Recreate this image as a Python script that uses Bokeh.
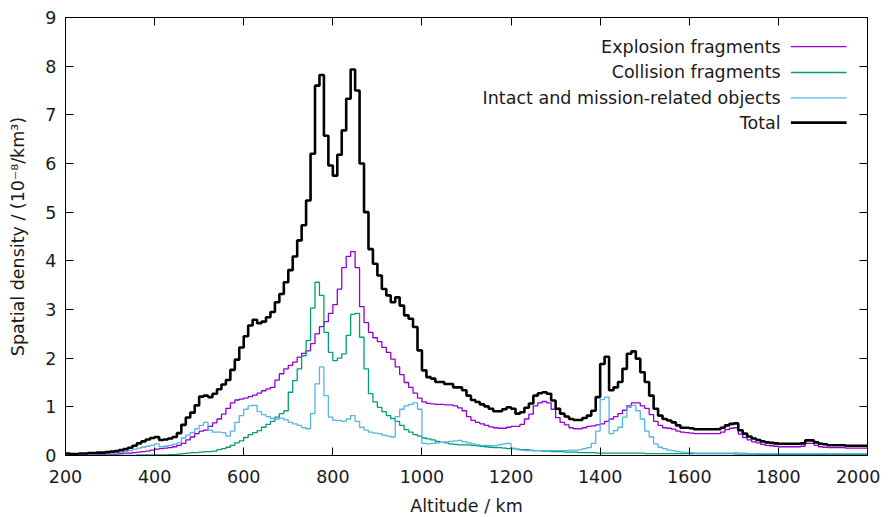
import numpy as np
from bokeh.plotting import figure
from bokeh.models import Range1d, FixedTicker, LinearAxis, Label
from bokeh.embed import file_html
from bokeh.resources import INLINE

# ---------------- data (10 km altitude bins starting at 200 km) ----------------
bin_start = 200
bin_width = 10

explosion = [
    0.01, 0.01, 0.01, 0.01, 0.01, 0.02, 0.02, 0.02, 0.02, 0.03,
    0.03, 0.03, 0.04, 0.05, 0.05, 0.06, 0.07, 0.08, 0.09, 0.11,
    0.13, 0.14, 0.15, 0.16, 0.18, 0.21, 0.25, 0.32, 0.38, 0.45,
    0.50, 0.52, 0.60, 0.67, 0.75, 0.85, 0.97, 1.08, 1.14, 1.16,
    1.18, 1.21, 1.24, 1.28, 1.33, 1.37, 1.40, 1.55, 1.68, 1.78,
    1.85, 1.92, 2.02, 2.10, 2.15, 2.30, 2.50, 2.65, 2.75, 2.92,
    3.10, 3.42, 3.86, 4.09, 4.19, 3.86, 3.06, 2.73, 2.53, 2.42,
    2.34, 2.22, 2.12, 1.98, 1.82, 1.66, 1.50, 1.40, 1.28, 1.18,
    1.10, 1.07, 1.06, 1.05, 1.05, 1.04, 1.04, 1.02, 0.98, 0.92,
    0.80, 0.72, 0.68, 0.65, 0.62, 0.59, 0.57, 0.56, 0.56, 0.58,
    0.60, 0.60, 0.64, 0.75, 0.85, 1.02, 1.08, 1.11, 1.08, 0.95,
    0.78, 0.68, 0.63, 0.57, 0.55, 0.55, 0.57, 0.60, 0.61, 0.63,
    0.65, 0.70, 0.75, 0.80, 0.86, 0.93, 1.02, 1.08, 1.08, 1.02,
    0.97, 0.84, 0.70, 0.62, 0.57, 0.56, 0.54, 0.50, 0.48, 0.47,
    0.46, 0.45, 0.45, 0.45, 0.45, 0.45, 0.45, 0.48, 0.53, 0.56,
    0.57, 0.44, 0.37, 0.32, 0.28, 0.26, 0.23, 0.21, 0.20, 0.19,
    0.18, 0.18, 0.18, 0.18, 0.18, 0.19, 0.25, 0.25, 0.21, 0.18,
    0.17, 0.16, 0.16, 0.16, 0.16, 0.15, 0.15, 0.15, 0.15, 0.15,
]

collision = [
    0.00, 0.00, 0.00, 0.00, 0.00, 0.00, 0.00, 0.00, 0.00, 0.00,
    0.00, 0.00, 0.00, 0.00, 0.00, 0.00, 0.01, 0.01, 0.01, 0.01,
    0.01, 0.01, 0.01, 0.02, 0.02, 0.03, 0.04, 0.05, 0.06, 0.06,
    0.07, 0.08, 0.08, 0.09, 0.12, 0.14, 0.17, 0.21, 0.26, 0.30,
    0.37, 0.43, 0.47, 0.51, 0.58, 0.64, 0.70, 0.79, 0.86, 0.92,
    1.30, 1.54, 1.78, 2.05, 2.36, 3.03, 3.56, 3.29, 2.53, 2.12,
    1.95, 2.00, 2.09, 2.47, 2.90, 2.92, 2.43, 1.78, 1.27, 1.10,
    0.99, 0.90, 0.82, 0.76, 0.70, 0.62, 0.53, 0.48, 0.43, 0.40,
    0.36, 0.34, 0.32, 0.29, 0.27, 0.26, 0.24, 0.23, 0.22, 0.22,
    0.22, 0.21, 0.20, 0.19, 0.18, 0.17, 0.16, 0.16, 0.15, 0.14,
    0.14, 0.13, 0.12, 0.12, 0.11, 0.10, 0.10, 0.09, 0.09, 0.08,
    0.08, 0.08, 0.07, 0.07, 0.07, 0.06, 0.06, 0.06, 0.06, 0.05,
    0.05, 0.05, 0.05, 0.05, 0.05, 0.05, 0.05, 0.05, 0.05, 0.05,
    0.04, 0.04, 0.04, 0.04, 0.04, 0.04, 0.04, 0.04, 0.04, 0.04,
    0.04, 0.04, 0.04, 0.04, 0.04, 0.04, 0.04, 0.04, 0.04, 0.04,
    0.03, 0.03, 0.03, 0.03, 0.03, 0.02, 0.02, 0.02, 0.02, 0.02,
    0.02, 0.02, 0.02, 0.02, 0.02, 0.02, 0.02, 0.02, 0.02, 0.02,
    0.02, 0.02, 0.02, 0.02, 0.02, 0.02, 0.02, 0.02, 0.02, 0.02,
]

intact = [
    0.03, 0.02, 0.02, 0.03, 0.03, 0.03, 0.03, 0.04, 0.04, 0.04,
    0.05, 0.06, 0.07, 0.08, 0.10, 0.13, 0.15, 0.17, 0.19, 0.21,
    0.24, 0.18, 0.19, 0.21, 0.23, 0.26, 0.36, 0.42, 0.47, 0.55,
    0.62, 0.68, 0.52, 0.48, 0.48, 0.47, 0.40, 0.50, 0.68, 0.82,
    0.95, 1.02, 1.03, 0.90, 0.84, 0.80, 0.76, 0.75, 0.77, 0.73,
    0.68, 0.65, 0.62, 0.57, 0.55, 0.86, 1.47, 1.82, 1.23, 0.79,
    0.72, 0.72, 0.70, 0.75, 0.82, 0.70, 0.58, 0.52, 0.48, 0.46,
    0.45, 0.42, 0.40, 0.38, 0.80, 0.95, 1.02, 1.05, 1.08, 0.95,
    0.25, 0.24, 0.25, 0.26, 0.27, 0.28, 0.29, 0.30, 0.31, 0.28,
    0.26, 0.24, 0.22, 0.21, 0.21, 0.20, 0.20, 0.22, 0.24, 0.25,
    0.15, 0.12, 0.11, 0.10, 0.10, 0.10, 0.10, 0.10, 0.10, 0.10,
    0.10, 0.10, 0.10, 0.11, 0.11, 0.12, 0.14, 0.16, 0.25, 0.50,
    1.15, 1.20, 0.45, 0.51, 0.58, 0.79, 0.99, 1.03, 0.92, 0.75,
    0.50, 0.38, 0.24, 0.17, 0.14, 0.11, 0.10, 0.08, 0.07, 0.06,
    0.06, 0.05, 0.05, 0.05, 0.05, 0.05, 0.05, 0.05, 0.05, 0.05,
    0.06, 0.05, 0.05, 0.04, 0.04, 0.04, 0.04, 0.04, 0.04, 0.04,
    0.04, 0.04, 0.04, 0.04, 0.04, 0.04, 0.04, 0.04, 0.04, 0.04,
    0.04, 0.04, 0.04, 0.04, 0.04, 0.04, 0.04, 0.04, 0.04, 0.04,
]

total = [
    0.04, 0.03, 0.03, 0.04, 0.04, 0.05, 0.05, 0.06, 0.06, 0.07,
    0.08, 0.09, 0.11, 0.13, 0.16, 0.20, 0.25, 0.29, 0.33, 0.36,
    0.38, 0.32, 0.33, 0.35, 0.38, 0.46, 0.63, 0.78, 0.88, 1.03,
    1.21, 1.23, 1.20, 1.27, 1.36, 1.46, 1.55, 1.76, 1.97, 2.22,
    2.45, 2.67, 2.79, 2.72, 2.75, 2.84, 2.95, 3.15, 3.32, 3.56,
    3.81, 4.09, 4.42, 4.73, 5.24, 6.20, 7.60, 7.82, 6.57, 5.96,
    5.75, 6.18, 6.68, 7.33, 7.93, 7.50, 6.00, 5.00, 4.24, 3.94,
    3.70, 3.42, 3.29, 3.15, 3.25, 3.08, 2.88, 2.81, 2.64, 2.16,
    1.75, 1.61, 1.58, 1.51, 1.51, 1.47, 1.47, 1.40, 1.40, 1.34,
    1.23, 1.14, 1.10, 1.05, 1.01, 0.96, 0.91, 0.91, 0.95, 0.99,
    0.96, 0.86, 0.89, 0.98, 1.07, 1.23, 1.28, 1.30, 1.27, 1.13,
    0.96, 0.86, 0.80, 0.75, 0.73, 0.73, 0.77, 0.82, 0.92, 1.20,
    1.88, 2.03, 1.34, 1.40, 1.51, 1.78, 2.09, 2.14, 1.99, 1.71,
    1.51, 1.23, 0.96, 0.82, 0.75, 0.72, 0.68, 0.62, 0.57, 0.57,
    0.56, 0.54, 0.54, 0.54, 0.54, 0.54, 0.54, 0.57, 0.62, 0.65,
    0.66, 0.52, 0.45, 0.39, 0.35, 0.32, 0.29, 0.27, 0.26, 0.25,
    0.24, 0.24, 0.24, 0.24, 0.24, 0.25, 0.31, 0.31, 0.27, 0.24,
    0.23, 0.21, 0.21, 0.21, 0.21, 0.20, 0.20, 0.20, 0.20, 0.20,
]

series_names = ["Explosion fragments", "Collision fragments",
                "Intact and mission-related objects", "Total"]
series_values = [explosion, collision, intact, total]
series_colors = ["#9400d3", "#009e73", "#56b4e9", "#000000"]
series_widths = [1.3, 1.3, 1.3, 2.6]

x_ticks = [200, 400, 600, 800, 1000, 1200, 1400, 1600, 1800, 2000]
y_ticks = [0, 1, 2, 3, 4, 5, 6, 7, 8, 9]

# ---------------- styling constants ----------------
FONT = "DejaVu Sans"
FS = "17.5px"
TXT = "#1a1a1a"

p = figure(frame_width=802, frame_height=438,
           min_border_left=65, min_border_right=13,
           min_border_top=17, min_border_bottom=54,
           x_range=Range1d(200, 2000), y_range=Range1d(0, 9),
           output_backend="svg", toolbar_location=None,
           background_fill_color="white", border_fill_color="white")

p.xgrid.visible = False
p.ygrid.visible = False
p.outline_line_color = "black"
p.outline_line_width = 1

def style_axis(ax, ticks, show_labels=True):
    ax.ticker = FixedTicker(ticks=ticks)
    ax.major_tick_in = 8
    ax.major_tick_out = 0
    ax.minor_tick_in = 0
    ax.minor_tick_out = 0
    ax.axis_line_color = "black"
    ax.major_tick_line_color = "black"
    ax.major_label_text_font = FONT
    ax.major_label_text_color = TXT
    if show_labels:
        ax.major_label_text_font_size = FS
    else:
        ax.major_label_text_font_size = "0px"
        ax.major_label_text_alpha = 0
        ax.major_label_standoff = 0

style_axis(p.xaxis[0], x_ticks)
style_axis(p.yaxis[0], y_ticks)
p.xaxis[0].major_label_standoff = 14
p.yaxis[0].major_label_standoff = 9
p.xaxis[0].axis_label = "Altitude / km"
p.yaxis[0].axis_label = "Spatial density / (10\u207b\u2078/km\u00b3)"
for ax in (p.xaxis[0], p.yaxis[0]):
    ax.axis_label_text_font = FONT
    ax.axis_label_text_font_size = FS
    ax.axis_label_text_font_style = "normal"
    ax.axis_label_text_color = TXT
p.xaxis[0].axis_label_standoff = 10
p.yaxis[0].axis_label_standoff = 14

top_ax = LinearAxis()
style_axis(top_ax, x_ticks, show_labels=False)
p.add_layout(top_ax, "above")
right_ax = LinearAxis()
style_axis(right_ax, y_ticks, show_labels=False)
p.add_layout(right_ax, "right")

# ---------------- histogram steps ----------------
n_bins = len(total)
edges = bin_start + bin_width * np.arange(n_bins + 1)
for vals, col, w in zip(series_values, series_colors, series_widths):
    yy = list(vals) + [vals[-1]]
    p.step(edges, yy, mode="after", line_color=col, line_width=w)

# ---------------- legend (gnuplot style: text then sample) ----------------
legend_text_x = 1805
legend_line_x0, legend_line_x1 = 1828, 1953
legend_rows = [8.40, 7.87, 7.35, 6.84]
for name, col, w, yrow in zip(series_names, series_colors, series_widths, legend_rows):
    p.add_layout(Label(x=legend_text_x, y=yrow, text=name, text_align="right",
                       text_baseline="middle", text_font=FONT, text_font_size=FS,
                       text_color=TXT))
    p.line([legend_line_x0, legend_line_x1], [yrow, yrow], line_color=col, line_width=w)

open("out.html", "w").write(file_html(p, INLINE))
